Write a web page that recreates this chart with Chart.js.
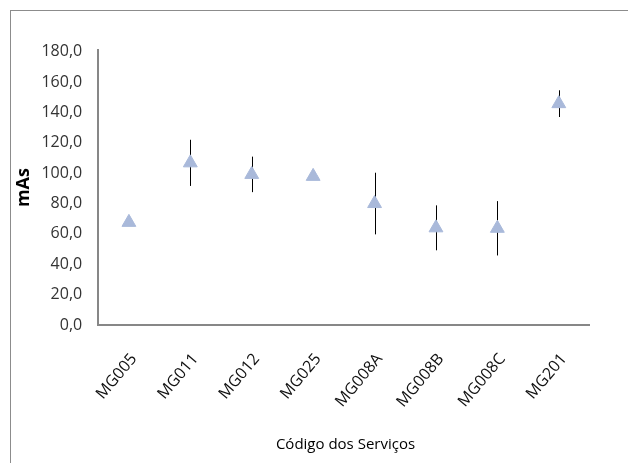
<!DOCTYPE html>
<html>
<head>
<meta charset="utf-8">
<script src="https://cdn.jsdelivr.net/npm/chart.js@4/dist/chart.umd.min.js"></script>
<style>
  html, body { margin: 0; padding: 0; background: #fff; overflow: hidden; width: 628px; height: 463px; }
  #frame {
    position: absolute; left: 10px; top: 10px;
    width: 700px; height: 480px;
    border: 1.5px solid #8c8c8c;
  }
  #wrap { position: absolute; left: 0; top: 0; width: 669px; height: 459px; }
</style>
</head>
<body>
<div id="frame"><div id="wrap"><canvas id="chart"></canvas></div></div>
<script>
// Data
const services = ['MG005', 'MG011', 'MG012', 'MG025', 'MG008A', 'MG008B', 'MG008C', 'MG201'];
const meanMAs = [67.6, 106.8, 99.2, 97.9, 80, 64, 63.7, 145.8];
const errMAs = [0, 15.2, 11.7, 0, 20.3, 14.8, 17.9, 8.8];
const yTicks = [0, 20, 40, 60, 80, 100, 120, 140, 160, 180];

// Plain vertical error bars, drawn behind the markers
const errorBars = {
  id: 'errorBars',
  beforeDatasetsDraw(chart) {
    const ctx = chart.ctx;
    const x = chart.scales.x;
    const y = chart.scales.y;
    ctx.save();
    ctx.strokeStyle = '#000';
    ctx.lineWidth = 1;
    meanMAs.forEach((v, i) => {
      const e = errMAs[i];
      if (!e) return;
      const px = Math.round(x.getPixelForValue(i)) + 0.5;
      ctx.beginPath();
      ctx.moveTo(px, y.getPixelForValue(v + e));
      ctx.lineTo(px, y.getPixelForValue(v - e));
      ctx.stroke();
    });
    ctx.restore();
  }
};

const font = "'Open Sans', sans-serif";

new Chart(document.getElementById('chart'), {
  type: 'line',
  data: {
    labels: services,
    datasets: [{
      data: meanMAs,
      showLine: false,
      pointStyle: 'triangle',
      pointRadius: 8,
      pointHoverRadius: 8,
      pointBackgroundColor: '#a9b9da',
      pointBorderColor: '#a9b9da',
      pointBorderWidth: 1
    }]
  },
  options: {
    responsive: true,
    maintainAspectRatio: false,
    animation: false,
    layout: { padding: { left: 0, right: 0, top: 39.2, bottom: 0 } },
    plugins: {
      legend: { display: false },
      tooltip: { enabled: false },
      title: {
        display: true,
        position: 'bottom',
        text: 'Código dos Serviços',
        color: '#000',
        font: { family: font, size: 15, weight: 'normal' },
        padding: { top: 0, bottom: 16.5 }
      }
    },
    scales: {
      x: {
        offset: true,
        grid: { display: false, drawTicks: false, offset: true },
        border: { display: true, color: '#878787', width: 2 },
        ticks: {
          color: '#111',
          font: { family: font, size: 16 },
          minRotation: 50,
          maxRotation: 50,
          padding: 25,
          labelOffset: 5
        },
        afterFit(scale) { scale.height = 110.5; }
      },
      y: {
        min: 0,
        max: 181,
        afterBuildTicks(scale) { scale.ticks = yTicks.map(v => ({ value: v })); },
        grid: { display: false, drawTicks: false },
        border: { display: true, color: '#878787', width: 2 },
        ticks: {
          color: '#333',
          font: { family: font, size: 16 },
          padding: 16,
          callback: v => v.toFixed(1).replace('.', ',')
        },
        title: {
          display: true,
          text: 'mAs',
          color: '#000',
          font: { family: font, size: 18, weight: 'bold' },
          padding: { top: 2, bottom: 0 }
        },
        afterFit(scale) { scale.width = 87.2; }
      },
      // empty right-hand box that reserves the space right of the plot
      spacer: {
        type: 'linear',
        position: 'right',
        grid: { display: false, drawTicks: false },
        border: { display: false },
        ticks: { display: false },
        afterFit(scale) { scale.width = 90.5; }
      }
    }
  },
  plugins: [errorBars]
});
</script>
</body>
</html>
